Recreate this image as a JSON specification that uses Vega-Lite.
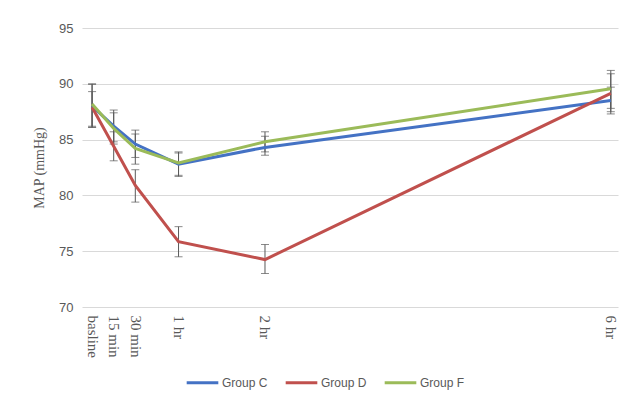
{
  "$schema": "https://vega.github.io/schema/vega-lite/v6.json",
  "autosize": {"type": "none"},
  "width": 536,
  "height": 279,
  "padding": {"left": 82, "top": 28, "right": 5, "bottom": 87},
  "background": "white",
  "config": {"view": {"stroke": null}},
  "data": {
    "values": [
      {"group": "Group C", "t": 0, "map": 88.0, "lo": 86.1, "hi": 89.95},
      {"group": "Group C", "t": 15, "map": 86.2, "lo": 84.8, "hi": 87.65},
      {"group": "Group C", "t": 30, "map": 84.6, "lo": 83.4, "hi": 85.85},
      {"group": "Group C", "t": 60, "map": 82.8, "lo": 81.7, "hi": 83.8},
      {"group": "Group C", "t": 120, "map": 84.3, "lo": 83.6, "hi": 85.3},
      {"group": "Group C", "t": 360, "map": 88.5, "lo": 87.3, "hi": 89.7},
      {"group": "Group D", "t": 0, "map": 87.9, "lo": 86.1, "hi": 89.3},
      {"group": "Group D", "t": 15, "map": 84.4, "lo": 83.1, "hi": 85.7},
      {"group": "Group D", "t": 30, "map": 80.9, "lo": 79.4, "hi": 82.3},
      {"group": "Group D", "t": 60, "map": 75.85, "lo": 74.5, "hi": 77.2},
      {"group": "Group D", "t": 120, "map": 74.25, "lo": 73.0, "hi": 75.6},
      {"group": "Group D", "t": 360, "map": 89.15, "lo": 87.5, "hi": 90.9},
      {"group": "Group F", "t": 0, "map": 88.2, "lo": 86.2, "hi": 90.0},
      {"group": "Group F", "t": 15, "map": 86.0, "lo": 84.6, "hi": 87.4},
      {"group": "Group F", "t": 30, "map": 84.2, "lo": 82.8, "hi": 85.5},
      {"group": "Group F", "t": 60, "map": 82.9, "lo": 81.8, "hi": 83.9},
      {"group": "Group F", "t": 120, "map": 84.8, "lo": 83.9, "hi": 85.7},
      {"group": "Group F", "t": 360, "map": 89.55, "lo": 87.8, "hi": 91.2}
    ]
  },
  "encoding": {
    "x": {
      "field": "t",
      "type": "quantitative",
      "scale": {"domain": [-7, 365], "nice": false, "zero": false},
      "axis": {
        "title": null,
        "values": [0, 15, 30, 60, 120, 360],
        "labelExpr": "datum.value == 0 ? 'basline' : datum.value == 15 ? '15 min' : datum.value == 30 ? '30 min' : datum.value == 60 ? '1 hr' : datum.value == 120 ? '2 hr' : '6 hr'",
        "labelAngle": 90,
        "labelAlign": "left",
        "labelBaseline": "middle",
        "labelPadding": 8,
        "labelFont": "Liberation Serif",
        "labelFontSize": 15,
        "labelColor": "#595959",
        "domain": false,
        "ticks": false,
        "grid": false,
        "labelOverlap": false
      }
    }
  },
  "layer": [
    {
      "mark": {"type": "rule", "color": "#595959", "strokeWidth": 1},
      "encoding": {
        "y": {"field": "lo", "type": "quantitative"},
        "y2": {"field": "hi"}
      }
    },
    {
      "mark": {"type": "tick", "orient": "horizontal", "color": "#595959", "size": 8, "thickness": 1},
      "encoding": {"y": {"field": "lo", "type": "quantitative"}}
    },
    {
      "mark": {"type": "tick", "orient": "horizontal", "color": "#595959", "size": 8, "thickness": 1},
      "encoding": {"y": {"field": "hi", "type": "quantitative"}}
    },
    {
      "mark": {"type": "line", "interpolate": "linear", "strokeWidth": 3},
      "encoding": {
        "y": {
          "field": "map",
          "type": "quantitative",
          "scale": {"domain": [70, 95], "nice": false, "zero": false},
          "axis": {
            "title": "MAP (mmHg)",
            "titleFont": "Liberation Serif",
            "titleFontSize": 14,
            "titleFontWeight": "normal",
            "titleColor": "#595959",
            "titlePadding": 12,
            "values": [70, 75, 80, 85, 90, 95],
            "labelFont": "Liberation Sans",
            "labelFontSize": 13,
            "labelColor": "#595959",
            "labelPadding": 9,
            "domain": false,
            "ticks": false,
            "gridColor": "#D9D9D9",
            "gridWidth": 1
          }
        },
        "color": {
          "field": "group",
          "type": "nominal",
          "scale": {"domain": ["Group C", "Group D", "Group F"], "range": ["#4472C4", "#C0504D", "#9BBB59"]},
          "legend": {
            "title": null,
            "orient": "none",
            "direction": "horizontal",
            "legendX": 103,
            "legendY": 337,
            "symbolType": "stroke",
            "symbolSize": 1000,
            "symbolStrokeWidth": 3,
            "labelFont": "Liberation Sans",
            "labelFontSize": 12,
            "labelColor": "#595959",
            "labelOffset": 2,
            "columnPadding": 11
          }
        }
      }
    }
  ]
}
